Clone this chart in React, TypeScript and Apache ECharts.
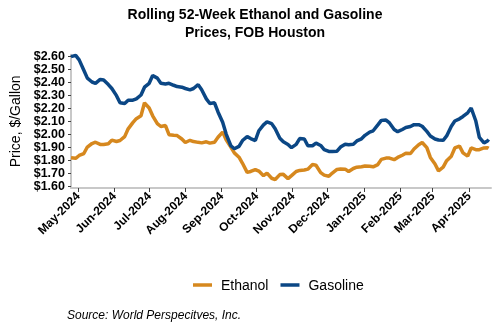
import React, { useEffect, useRef } from "react";
import * as echarts from "echarts";

const dates = [
  "2024-04-25", "2024-04-29", "2024-05-02", "2024-05-06", "2024-05-09", "2024-05-13", "2024-05-16", "2024-05-20",
  "2024-05-23", "2024-05-27", "2024-05-30", "2024-06-03", "2024-06-06", "2024-06-10", "2024-06-13", "2024-06-17",
  "2024-06-20", "2024-06-24", "2024-06-27", "2024-07-01", "2024-07-04", "2024-07-08", "2024-07-11", "2024-07-15",
  "2024-07-18", "2024-07-22", "2024-07-25", "2024-07-29", "2024-08-01", "2024-08-05", "2024-08-08", "2024-08-12",
  "2024-08-15", "2024-08-19", "2024-08-22", "2024-08-26", "2024-08-29", "2024-09-02", "2024-09-05", "2024-09-09",
  "2024-09-12", "2024-09-16", "2024-09-19", "2024-09-23", "2024-09-26", "2024-09-30", "2024-10-03", "2024-10-07",
  "2024-10-10", "2024-10-14", "2024-10-17", "2024-10-21", "2024-10-24", "2024-10-28", "2024-10-31", "2024-11-04",
  "2024-11-07", "2024-11-11", "2024-11-14", "2024-11-18", "2024-11-21", "2024-11-25", "2024-11-28", "2024-12-02",
  "2024-12-05", "2024-12-09", "2024-12-12", "2024-12-16", "2024-12-19", "2024-12-23", "2024-12-26", "2024-12-30",
  "2025-01-02", "2025-01-06", "2025-01-09", "2025-01-13", "2025-01-16", "2025-01-20", "2025-01-23", "2025-01-27",
  "2025-01-30", "2025-02-03", "2025-02-06", "2025-02-10", "2025-02-13", "2025-02-17", "2025-02-20", "2025-02-24",
  "2025-02-27", "2025-03-03", "2025-03-06", "2025-03-10", "2025-03-13", "2025-03-17", "2025-03-20", "2025-03-24",
  "2025-03-27", "2025-03-31", "2025-04-03", "2025-04-07", "2025-04-10", "2025-04-14", "2025-04-17", "2025-04-18",
];

const ethanol = [
  1.818, 1.813, 1.835, 1.85, 1.9, 1.927, 1.937, 1.92,
  1.92, 1.925, 1.953, 1.943, 1.95, 1.98, 2.04, 2.088,
  2.118, 2.14, 2.24, 2.2, 2.14, 2.08, 2.058, 2.065,
  1.995, 1.99, 1.988, 1.962, 1.935, 1.952, 1.942, 1.936,
  1.932, 1.94, 1.93, 1.937, 1.975, 2.015, 1.955, 1.9,
  1.855, 1.822, 1.775, 1.705, 1.712, 1.727, 1.715, 1.68,
  1.7, 1.66, 1.65, 1.688, 1.69, 1.657, 1.68, 1.712,
  1.72, 1.723, 1.73, 1.765, 1.76, 1.703, 1.684, 1.675,
  1.7, 1.728, 1.731, 1.73, 1.712, 1.735, 1.745, 1.748,
  1.754, 1.752, 1.748, 1.765, 1.805, 1.815, 1.815, 1.803,
  1.82, 1.837, 1.852, 1.85, 1.885, 1.918, 1.935, 1.895,
  1.82, 1.77, 1.717, 1.745, 1.795, 1.83, 1.893, 1.907,
  1.855, 1.83, 1.893, 1.88, 1.88, 1.893, 1.895, 1.89,
];

const gasoline = [
  2.595, 2.605, 2.57, 2.49, 2.43, 2.4, 2.39, 2.42,
  2.415, 2.38, 2.35, 2.295, 2.24, 2.235, 2.26, 2.26,
  2.27, 2.3, 2.36, 2.39, 2.45, 2.43, 2.39, 2.385,
  2.39, 2.375, 2.365, 2.36, 2.35, 2.34, 2.35, 2.38,
  2.34, 2.27, 2.235, 2.24, 2.17, 2.09, 2.0, 1.91,
  1.887, 1.905, 1.95, 1.98, 1.965, 1.95, 2.025, 2.07,
  2.093, 2.08, 2.04, 1.967, 1.94, 1.92, 1.895, 1.92,
  1.965, 1.962, 1.91, 1.91, 1.93, 1.912, 1.88, 1.866,
  1.865, 1.868, 1.9, 1.922, 1.918, 1.922, 1.947, 1.963,
  1.99, 2.015, 2.025, 2.07, 2.105, 2.107, 2.085, 2.035,
  2.018, 2.035, 2.05, 2.058, 2.072, 2.072, 2.06, 2.02,
  1.985, 1.962, 1.954, 1.952, 1.985, 2.06, 2.1, 2.117,
  2.135, 2.163, 2.2, 2.1, 1.975, 1.932, 1.947, 1.958,
];

const yTicks = [1.6, 1.7, 1.8, 1.9, 2.0, 2.1, 2.2, 2.3, 2.4, 2.5, 2.6];

const monthTicks = [
  "2024-05-01", "2024-06-01", "2024-07-01", "2024-08-01", "2024-09-01", "2024-10-01",
  "2024-11-01", "2024-12-01", "2025-01-01", "2025-02-01", "2025-03-01", "2025-04-01",
];

const MONTHS = ["Jan", "Feb", "Mar", "Apr", "May", "Jun", "Jul", "Aug", "Sep", "Oct", "Nov", "Dec"];
const ETH_COLOR = "#D6881E";
const GAS_COLOR = "#0B4785";
const FONT = "'Liberation Sans', Arial, sans-serif";

const ts = (s: string) => {
  const [y, m, d] = s.split("-").map(Number);
  return Date.UTC(y, m - 1, d);
};

export default function App() {
  const ref = useRef<HTMLDivElement>(null);

  useEffect(() => {
    if (!ref.current) return;
    const chart = echarts.init(ref.current, undefined, { renderer: "svg" });
    const tickTs = monthTicks.map(ts);
    chart.setOption({
      animation: false,
      textStyle: { fontFamily: FONT },
      title: {
        text: "Rolling 52-Week Ethanol and Gasoline\nPrices, FOB Houston",
        left: 250,
        textAlign: "center",
        top: 0,
        textStyle: { fontFamily: FONT, fontSize: 14, fontWeight: "bold", color: "#000", lineHeight: 18 },
      },
      grid: { left: 66, right: 9, top: 54.7, bottom: 142, containLabel: false },
      legend: {
        data: ["Ethanol", "Gasoline"],
        top: 273,
        left: 188,
        icon: "rect",
        itemWidth: 19,
        itemHeight: 3.5,
        itemGap: 12,
        textStyle: { fontFamily: FONT, fontSize: 14, color: "#000", padding: [0, 0, 0, 4] },
      },
      xAxis: {
        type: "value",
        min: ts("2024-04-25"),
        max: ts("2025-04-20"),
        splitLine: { show: false },
        axisLine: { show: true, lineStyle: { color: "#C8C8C8", width: 2 } },
        axisTick: { show: true, customValues: tickTs, length: 4, lineStyle: { color: "#404040", width: 1 } },
        axisLabel: {
          customValues: tickTs,
          rotate: 45,
          margin: 6,
          fontFamily: FONT,
          fontSize: 12,
          fontWeight: "bold",
          color: "#000",
          formatter: (v: number) => {
            const d = new Date(v);
            return MONTHS[d.getUTCMonth()] + "-" + d.getUTCFullYear();
          },
        },
      },
      yAxis: {
        type: "value",
        min: 1.585,
        max: 2.61,
        name: "Price, $/Gallon",
        nameLocation: "middle",
        nameGap: 49,
        nameTextStyle: { fontFamily: FONT, fontSize: 14, color: "#000" },
        splitLine: { show: false },
        axisLine: { show: true, lineStyle: { color: "#C8C8C8", width: 2 } },
        axisTick: { show: true, customValues: yTicks, length: 3, lineStyle: { color: "#404040", width: 1 } },
        axisLabel: {
          customValues: yTicks,
          showMinLabel: true,
          showMaxLabel: true,
          hideOverlap: false,
          margin: 6,
          fontFamily: FONT,
          fontSize: 12.5,
          lineHeight: 12,
          fontWeight: "bold",
          color: "#000",
          formatter: (v: number) => "$" + v.toFixed(2),
        },
      },
      series: [
        {
          name: "Ethanol",
          type: "line",
          data: dates.map((d, i) => [ts(d), ethanol[i]]),
          symbol: "none",
          smooth: false,
          lineStyle: { color: ETH_COLOR, width: 3.5 },
          itemStyle: { color: ETH_COLOR },
        },
        {
          name: "Gasoline",
          type: "line",
          data: dates.map((d, i) => [ts(d), gasoline[i]]),
          symbol: "none",
          smooth: false,
          lineStyle: { color: GAS_COLOR, width: 3.5 },
          itemStyle: { color: GAS_COLOR },
        },
      ],
      graphic: [
        {
          type: "text",
          left: 67,
          top: 309,
          style: {
            text: "Source: World Perspecitves, Inc.",
            fontFamily: FONT,
            fontSize: 12,
            fontStyle: "italic",
            fill: "#000",
          },
        },
      ],
    });
    return () => chart.dispose();
  }, []);

  return <div ref={ref} style={{ position: "fixed", left: 0, top: 0, width: 500, height: 330 }} />;
}
